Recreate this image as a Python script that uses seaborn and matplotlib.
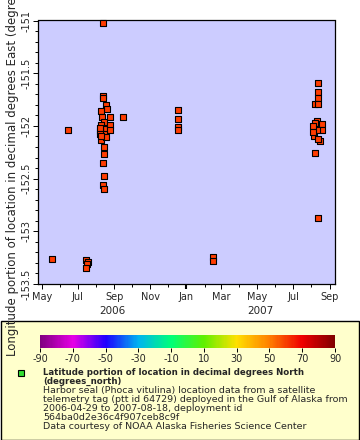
import numpy as np
import pandas as pd
import matplotlib
matplotlib.use("Agg")
import matplotlib.pyplot as plt
import matplotlib.dates as mdates
import matplotlib.ticker as mticker
from matplotlib.colors import LinearSegmentedColormap, Normalize
from matplotlib.patches import Rectangle
from matplotlib.lines import Line2D
import seaborn as sns

# Seal locations: time and longitude (degrees East)
times = ["2006-05-18", "2006-06-15",
         "2006-07-15", "2006-07-18", "2006-07-17", "2006-07-15",
         "2006-08-12",
         "2006-08-13", "2006-08-12", "2006-08-17", "2006-08-20", "2006-08-10",
         "2006-08-25", "2006-08-11", "2006-08-15", "2006-08-09", "2006-08-17",
         "2006-08-25", "2006-08-24", "2006-08-07", "2006-08-14", "2006-08-10",
         "2006-08-17", "2006-08-14", "2006-08-15", "2006-08-12", "2006-08-15",
         "2006-08-12", "2006-08-14", "2006-08-07", "2006-08-07", "2006-08-09",
         "2006-09-16",
         "2006-12-17", "2006-12-17", "2006-12-17", "2006-12-17",
         "2007-02-16", "2007-02-16",
         "2007-08-13", "2007-08-12", "2007-08-12", "2007-08-07", "2007-08-12",
         "2007-08-10", "2007-08-19", "2007-08-07", "2007-08-19", "2007-08-05",
         "2007-08-11", "2007-08-05", "2007-08-16", "2007-08-12", "2007-08-07",
         "2007-08-12", "2007-08-04", "2007-08-04"]
lons = [-153.26, -152.04,
        -153.27, -153.29, -153.31, -153.35,
        -151.02,
        -151.72, -151.74, -151.80, -151.84, -151.86,
        -151.92, -151.92, -151.96, -151.99, -152.03,
        -151.99, -152.04, -152.05, -152.08, -152.13,
        -152.11, -152.20, -152.27, -152.35, -152.48,
        -152.56, -152.60, -152.02, -152.08, -152.10,
        -151.92,
        -151.85, -151.93, -152.01, -152.04,
        -153.24, -153.28,
        -151.59, -151.68, -151.74, -151.79, -151.79,
        -151.95, -151.98, -151.97, -152.04, -152.03,
        -152.04, -152.10, -152.14, -152.12, -152.26,
        -152.87, -152.00, -152.06]

# colour bar (latitude scale)
cbar_ticks = [-90, -70, -50, -30, -10, 10, 30, 50, 70, 90]
cbar_colors = ["#800080", "#e600e6", "#1e00ff", "#00b4f0", "#00ff78",
               "#60f000", "#ffe000", "#ff8000", "#f00000", "#800000"]

legend_bold = ["Latitude portion of location in decimal degrees North",
               "(degrees_north)"]
legend_text = ["Harbor seal (Phoca vitulina) location data from a satellite",
               "telemetry tag (ptt id 64729) deployed in the Gulf of Alaska from",
               "2006-04-29 to 2007-08-18, deployment id",
               "564ba0d2e36c4f907ceb8c9f",
               "Data courtesy of NOAA Alaska Fisheries Science Center"]

df = pd.DataFrame({"time": pd.to_datetime(times), "lon": lons})

sns.set_style("ticks")
plt.rcParams["font.family"] = ["DejaVu Sans"]
plt.rcParams["axes.unicode_minus"] = False

W, H = 360, 440
fig = plt.figure(figsize=(W / 100, H / 100), dpi=100)
fig.patch.set_facecolor("white")

ax = fig.add_axes([37.7 / W, 1 - 284 / H, 297.3 / W, 263.5 / H])
ax.set_facecolor("#ccccff")

sns.scatterplot(data=df, x="time", y="lon", marker="s", s=24,
                color="#ff3c00", edgecolor="black", linewidth=0.8, ax=ax,
                zorder=3, clip_on=False)

ax.set_xlim(pd.Timestamp("2006-04-24"), pd.Timestamp("2007-09-10"))
ax.set_ylim(-153.5, -151)

ax.xaxis.set_major_locator(mdates.MonthLocator(bymonth=[1, 3, 5, 7, 9, 11]))
ax.xaxis.set_minor_locator(mdates.MonthLocator())
ax.xaxis.set_major_formatter(mdates.DateFormatter("%b"))
ax.yaxis.set_major_locator(mticker.MultipleLocator(0.5))
ax.yaxis.set_minor_locator(mticker.MultipleLocator(0.1))
ax.yaxis.set_major_formatter(mticker.FormatStrFormatter("%g"))

ax.tick_params(which="major", length=3.6, width=0.7, labelsize=7, color="black")
ax.tick_params(which="minor", length=2.2, width=0.7, color="black")
ax.tick_params(axis="x", pad=2)
ax.tick_params(axis="y", labelrotation=90, pad=1)
for lab in ax.get_yticklabels():
    lab.set_va("center")

for sp in ax.spines.values():
    sp.set_color("black")
    sp.set_linewidth(0.9)

# thicker tick at the year boundary
locs = ax.xaxis.get_majorticklocs()
mticks = ax.xaxis.get_major_ticks(len(locs))
for t, loc in zip(mticks, locs):
    if mdates.num2date(loc).month == 1:
        t.tick1line.set_markeredgewidth(1.5)

# year labels under the month labels
x0, x1 = ax.get_xlim()
jan = mdates.date2num(pd.Timestamp("2007-01-01"))
for yr, xm in [("2006", (x0 + jan) / 2), ("2007", (jan + x1) / 2)]:
    ax.text(xm, -0.101, yr, transform=ax.get_xaxis_transform(),
            ha="center", va="center", fontsize=7.5)

ax.set_xlabel("")
ax.set_ylabel("Longitude portion of location in decimal degrees East (degrees_east)",
              fontsize=8.5)
ax.yaxis.set_label_coords(-0.063, 0.5)

# legend panel
fig.add_artist(Rectangle((0.5 / W, 0.5 / H), (W - 1.5) / W, (H - 321) / H,
                         transform=fig.transFigure, facecolor="#ffffcc",
                         edgecolor="black", linewidth=1, zorder=-1))

cax = fig.add_axes([40 / W, 1 - 348 / H, 295 / W, 13 / H])
sm = plt.cm.ScalarMappable(norm=Normalize(-90, 90),
                           cmap=LinearSegmentedColormap.from_list("rb", cbar_colors))
cb = fig.colorbar(sm, cax=cax, orientation="horizontal", ticks=cbar_ticks)
cb.outline.set_visible(False)
cax.tick_params(labelsize=7, length=3, width=0.7, pad=1, color="black")

fig.add_artist(Line2D([21 / W], [1 - 373 / H], transform=fig.transFigure,
                      marker="s", markersize=4, color="#33dd33",
                      markeredgecolor="black", markeredgewidth=0.8))

ty = 372.7
for line in legend_bold:
    fig.text(43 / W, 1 - ty / H, line, fontsize=6.2, fontweight="bold",
             ha="left", va="center")
    ty += 9
ty = 390.7
for line in legend_text:
    fig.text(43 / W, 1 - ty / H, line, fontsize=6.8, ha="left", va="center")
    ty += 9

fig.savefig("out.png", dpi=100)
